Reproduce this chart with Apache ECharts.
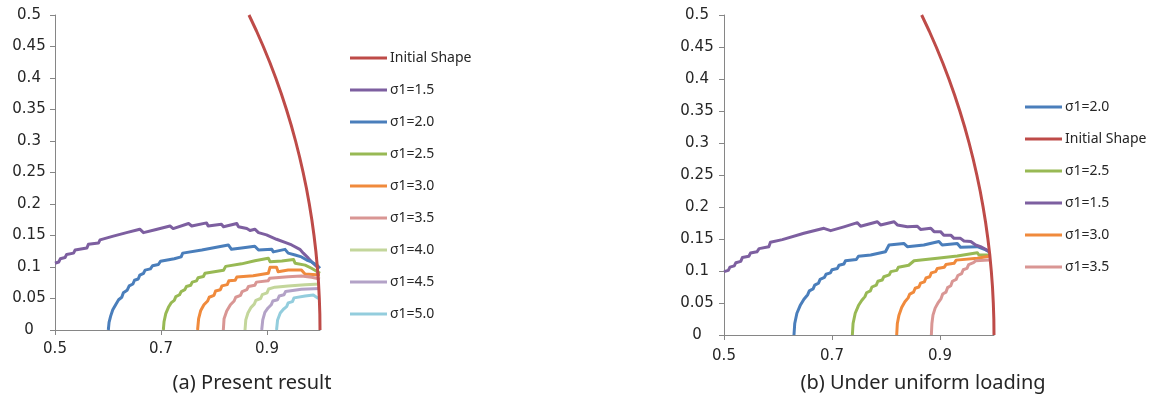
<!DOCTYPE html>
<html>
<head>
<meta charset="utf-8">
<script src="https://cdn.jsdelivr.net/npm/echarts@6/dist/echarts.min.js"></script>
<style>html,body{margin:0;padding:0;background:#fff}#c{width:1157px;height:407px}</style>
</head>
<body>
<div id="c"></div>
<script>
// ---- shared axis ticks ----
const xTickValues = [0.5, 0.7, 0.9];
const yTickStep = 0.05;

// ---- Initial shape (both panels) ----
const initialShape = [[1.0000,0],[0.9997,0.025],[0.9987,0.05],[0.9972,0.075],[0.9950,0.10],[0.9922,0.125],[0.9887,0.15],[0.9846,0.175],[0.9798,0.20],[0.9744,0.225],[0.9682,0.25],[0.9614,0.275],[0.9539,0.30],[0.9457,0.325],[0.9367,0.35],[0.9270,0.375],[0.9165,0.40],[0.9052,0.425],[0.8930,0.45],[0.8800,0.475],[0.8660,0.50]];

// ---- Panel (a) Present result ----
const a_s15 = [[0.5,0.106],[0.507,0.108],[0.510,0.113],[0.519,0.115],[0.522,0.120],[0.535,0.122],[0.538,0.127],[0.560,0.130],[0.563,0.136],[0.582,0.138],[0.585,0.143],[0.610,0.149],[0.635,0.1545],[0.660,0.160],[0.667,0.1545],[0.689,0.159],[0.717,0.165],[0.723,0.161],[0.752,0.169],[0.758,0.165],[0.786,0.170],[0.789,0.165],[0.814,0.168],[0.818,0.164],[0.843,0.169],[0.846,0.164],[0.862,0.161],[0.868,0.158],[0.877,0.160],[0.884,0.1545],[0.899,0.151],[0.918,0.144],[0.934,0.139],[0.9465,0.135],[0.962,0.128],[0.9685,0.122],[0.978,0.114],[0.987,0.106],[0.997,0.098]];
const a_s20 = [[0.6006,0],[0.602,0.012],[0.605,0.022],[0.609,0.032],[0.615,0.041],[0.620,0.048],[0.626,0.052],[0.629,0.059],[0.636,0.063],[0.640,0.070],[0.647,0.073],[0.650,0.079],[0.657,0.081],[0.660,0.087],[0.667,0.090],[0.670,0.095],[0.680,0.097],[0.684,0.102],[0.695,0.104],[0.699,0.109],[0.725,0.113],[0.738,0.116],[0.741,0.122],[0.777,0.127],[0.802,0.131],[0.827,0.135],[0.833,0.128],[0.852,0.130],[0.877,0.133],[0.884,0.127],[0.909,0.128],[0.912,0.124],[0.934,0.128],[0.940,0.122],[0.953,0.119],[0.965,0.116],[0.975,0.111],[0.984,0.108],[0.994,0.103],[1.0,0.098]];
const a_s25 = [[0.7044,0],[0.7057,0.013],[0.709,0.026],[0.714,0.036],[0.719,0.043],[0.725,0.047],[0.728,0.053],[0.735,0.056],[0.738,0.061],[0.745,0.064],[0.748,0.069],[0.756,0.071],[0.759,0.076],[0.767,0.078],[0.770,0.083],[0.780,0.085],[0.783,0.090],[0.818,0.095],[0.822,0.101],[0.852,0.105],[0.877,0.110],[0.9025,0.114],[0.9057,0.1085],[0.928,0.1095],[0.950,0.112],[0.953,0.106],[0.972,0.103],[0.984,0.098],[1.0,0.090]];
const a_s30 = [[0.769,0],[0.771,0.018],[0.775,0.031],[0.781,0.040],[0.788,0.046],[0.791,0.052],[0.800,0.055],[0.803,0.062],[0.812,0.064],[0.815,0.070],[0.825,0.072],[0.828,0.078],[0.840,0.079],[0.843,0.084],[0.874,0.086],[0.9025,0.090],[0.9057,0.0995],[0.918,0.0995],[0.921,0.0926],[0.940,0.0952],[0.965,0.0952],[0.9717,0.089],[1.0,0.0873]];
const a_s35 = [[0.8176,0],[0.819,0.018],[0.824,0.030],[0.831,0.040],[0.838,0.046],[0.841,0.052],[0.850,0.055],[0.853,0.061],[0.862,0.064],[0.865,0.069],[0.877,0.071],[0.880,0.076],[0.902,0.078],[0.905,0.082],[0.940,0.0847],[0.965,0.0857],[0.984,0.0836],[1.0,0.081]];
const a_s40 = [[0.8585,0],[0.860,0.016],[0.864,0.027],[0.870,0.036],[0.876,0.041],[0.879,0.047],[0.888,0.050],[0.891,0.056],[0.900,0.059],[0.903,0.065],[0.915,0.068],[0.940,0.070],[0.972,0.072],[1.0,0.073]];
const a_s45 = [[0.890,0],[0.892,0.016],[0.896,0.028],[0.902,0.035],[0.908,0.040],[0.911,0.046],[0.920,0.048],[0.923,0.054],[0.932,0.056],[0.935,0.061],[0.965,0.0646],[1.0,0.066]];
const a_s50 = [[0.918,0],[0.920,0.016],[0.925,0.027],[0.931,0.033],[0.937,0.037],[0.940,0.043],[0.948,0.045],[0.951,0.051],[0.972,0.054],[0.9874,0.0556],[0.997,0.050]];

// ---- Panel (b) Under uniform loading ----
const b_s15 = [[0.5,0.099],[0.508,0.101],[0.511,0.106],[0.519,0.108],[0.522,0.113],[0.531,0.115],[0.534,0.121],[0.546,0.123],[0.549,0.128],[0.561,0.130],[0.565,0.135],[0.583,0.138],[0.586,0.145],[0.608,0.149],[0.648,0.159],[0.685,0.1667],[0.6975,0.163],[0.722,0.169],[0.747,0.1755],[0.753,0.170],[0.784,0.177],[0.790,0.172],[0.815,0.177],[0.821,0.172],[0.8395,0.169],[0.858,0.170],[0.864,0.165],[0.883,0.1667],[0.889,0.1615],[0.901,0.1615],[0.907,0.156],[0.920,0.156],[0.926,0.151],[0.938,0.151],[0.9444,0.147],[0.957,0.146],[0.966,0.1406],[0.975,0.138],[0.9846,0.134],[0.991,0.130]];
const b_s20 = [[0.6296,0],[0.631,0.018],[0.635,0.034],[0.641,0.046],[0.648,0.056],[0.655,0.063],[0.658,0.069],[0.665,0.072],[0.668,0.078],[0.675,0.081],[0.678,0.087],[0.686,0.090],[0.689,0.095],[0.697,0.097],[0.700,0.102],[0.710,0.104],[0.713,0.109],[0.722,0.111],[0.725,0.116],[0.745,0.118],[0.749,0.123],[0.7716,0.125],[0.799,0.130],[0.8056,0.1406],[0.833,0.143],[0.8395,0.138],[0.870,0.1406],[0.898,0.146],[0.904,0.1406],[0.932,0.143],[0.938,0.137],[0.969,0.138],[0.9846,0.133],[0.991,0.130]];
const b_s25 = [[0.7377,0],[0.739,0.018],[0.743,0.034],[0.749,0.046],[0.755,0.054],[0.761,0.060],[0.764,0.066],[0.771,0.069],[0.774,0.075],[0.782,0.078],[0.785,0.084],[0.793,0.086],[0.796,0.091],[0.806,0.094],[0.809,0.099],[0.820,0.101],[0.823,0.106],[0.842,0.109],[0.852,0.116],[0.895,0.120],[0.932,0.1234],[0.969,0.1286],[0.972,0.125],[0.994,0.125]];
const b_s30 = [[0.8198,0],[0.821,0.018],[0.824,0.031],[0.829,0.043],[0.835,0.052],[0.841,0.058],[0.844,0.064],[0.851,0.067],[0.854,0.073],[0.861,0.075],[0.864,0.081],[0.871,0.083],[0.874,0.089],[0.881,0.091],[0.884,0.097],[0.892,0.099],[0.895,0.104],[0.908,0.106],[0.911,0.110],[0.926,0.112],[0.930,0.117],[0.969,0.120],[0.991,0.123]];
const b_s35 = [[0.884,0],[0.885,0.018],[0.887,0.031],[0.891,0.042],[0.897,0.051],[0.902,0.057],[0.905,0.064],[0.911,0.067],[0.914,0.074],[0.920,0.077],[0.923,0.084],[0.930,0.087],[0.933,0.093],[0.940,0.096],[0.943,0.102],[0.950,0.104],[0.953,0.110],[0.962,0.113],[0.966,0.116],[0.991,0.117]];

// ---- legend orders ----
const legendA = ['Initial Shape','σ1=1.5','σ1=2.0','σ1=2.5','σ1=3.0','σ1=3.5','σ1=4.0','σ1=4.5','σ1=5.0'];
const legendB = ['σ1=2.0','Initial Shape','σ1=2.5','σ1=1.5','σ1=3.0','σ1=3.5'];

const colors = {
  'Initial Shape':'#BE4B48','σ1=1.5':'#7D5FA0','σ1=2.0':'#4A7EBB','σ1=2.5':'#98B954',
  'σ1=3.0':'#F08A3C','σ1=3.5':'#D99694','σ1=4.0':'#C3D69B','σ1=4.5':'#B3A2C7','σ1=5.0':'#93CDDD'
};

const chart = echarts.init(document.getElementById('c'));
const axisGrey = '#868686';
const labelFont = {color:'#262626', fontFamily:'DejaVu Sans', fontSize:15};

function xAxis(gi, margin){
  return {type:'value', gridIndex:gi, min:0.5, max:1.0, interval:0.1,
    axisLine:{show:true, onZero:false, lineStyle:{color:axisGrey, width:1}},
    axisTick:{show:true, length:5, customValues:xTickValues, lineStyle:{color:axisGrey}},
    axisLabel:Object.assign({customValues:xTickValues, margin:margin, formatter:v=>String(v)}, labelFont),
    splitLine:{show:false}};
}
function yAxis(gi, margin){
  return {type:'value', gridIndex:gi, min:0, max:0.5, interval:yTickStep,
    axisLine:{show:true, lineStyle:{color:axisGrey, width:1}},
    axisTick:{show:true, length:5, lineStyle:{color:axisGrey}},
    axisLabel:Object.assign({margin:margin, align:'center'}, labelFont),
    splitLine:{show:false}};
}
function ser(name, data, gi){
  return {name:name, type:'line', xAxisIndex:gi, yAxisIndex:gi, data:data, showSymbol:false, symbol:'none',
    lineStyle:{width:3, color:colors[name], join:'round'}, itemStyle:{color:colors[name]}, z: name==='Initial Shape'?3:2, animation:false};
}
function legend(names, left, top){
  return {orient:'vertical', left:left, top:top, padding:0, data:names, icon:'rect', itemWidth:37, itemHeight:3,
    itemGap:16, selectedMode:false,
    textStyle:{fontFamily:'Noto Sans', fontSize:14, color:'#262626', lineHeight:16, padding:[0,0,0,-2]}};
}

chart.setOption({
  animation:false,
  grid:[{left:55, top:15, width:265, height:315},{left:724, top:15, width:270, height:320}],
  xAxis:[xAxis(0,12), xAxis(1,14)],
  yAxis:[yAxis(0,26), yAxis(1,27)],
  legend:[legend(legendA,350,50), legend(legendB,1025,99)],
  series:[
    ser('σ1=1.5',a_s15,0), ser('σ1=2.0',a_s20,0), ser('σ1=2.5',a_s25,0), ser('σ1=3.0',a_s30,0),
    ser('σ1=3.5',a_s35,0), ser('σ1=4.0',a_s40,0), ser('σ1=4.5',a_s45,0), ser('σ1=5.0',a_s50,0),
    ser('Initial Shape',initialShape,0),
    ser('σ1=2.0',b_s20,1), ser('σ1=2.5',b_s25,1), ser('σ1=1.5',b_s15,1), ser('σ1=3.0',b_s30,1),
    ser('σ1=3.5',b_s35,1), ser('Initial Shape',initialShape,1)
  ],
  graphic:[
    {type:'text', x:252, y:383, style:{text:'(a) Present result', textAlign:'center', textVerticalAlign:'middle', fontFamily:'Noto Sans', fontSize:20, fill:'#262626'}},
    {type:'text', x:923, y:383, style:{text:'(b) Under uniform loading', textAlign:'center', textVerticalAlign:'middle', fontFamily:'Noto Sans', fontSize:20, fill:'#262626'}}
  ]
});
</script>
</body>
</html>
